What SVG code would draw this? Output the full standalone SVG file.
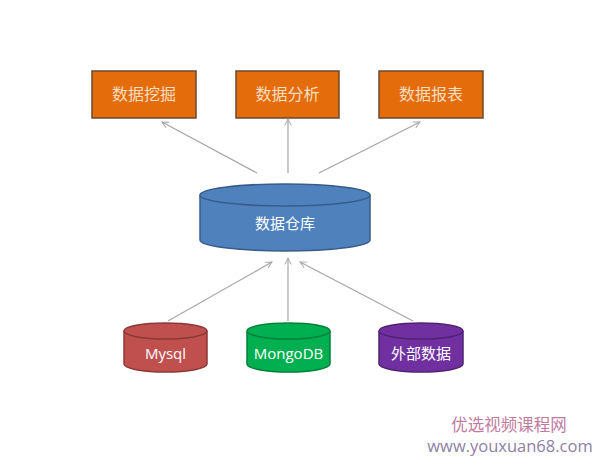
<svg xmlns="http://www.w3.org/2000/svg" width="595" height="464" viewBox="0 0 595 464">
<style>
.cn{font-family:"Noto Sans CJK SC","Liberation Sans",sans-serif;}
.box{fill:#E46C0A;stroke:#6B4A30;stroke-width:1.5;}
.boxt{fill:#F6DFC0;font-size:16px;text-anchor:middle;}
.ct{fill:#FFFFFF;font-size:15px;text-anchor:middle;}
.conn{stroke:#A6A6A6;stroke-width:1.2;fill:none;marker-end:url(#arr);}
</style>
<defs>
<marker id="arr" viewBox="0 0 10 10" refX="9" refY="5" markerWidth="8" markerHeight="8" orient="auto" markerUnits="userSpaceOnUse">
<path d="M1,1 L9,5 L1,9" fill="none" stroke="#A6A6A6" stroke-width="1.2"/>
</marker>
</defs>
<rect width="595" height="464" fill="#FFFFFF"/>
<g id="connectors">
<line class="conn" x1="257" y1="173" x2="162" y2="122"/>
<line class="conn" x1="288" y1="173" x2="288" y2="119"/>
<line class="conn" x1="319" y1="173" x2="420" y2="122"/>
<line class="conn" x1="168" y1="321" x2="272" y2="262"/>
<line class="conn" x1="288" y1="321" x2="288" y2="258"/>
<line class="conn" x1="413" y1="321" x2="300" y2="262"/>
</g>
<g id="mining">
<rect class="box" x="92" y="71" width="104" height="47"/>
<text class="cn boxt" x="144" y="100">数据挖掘</text>
</g>
<g id="analysis">
<rect class="box" x="236" y="71" width="103" height="47"/>
<text class="cn boxt" x="287.5" y="100">数据分析</text>
</g>
<g id="report">
<rect class="box" x="379" y="71" width="104" height="47"/>
<text class="cn boxt" x="431" y="100">数据报表</text>
</g>
<g id="warehouse">
<path d="M200,195 L200,240 A85,11 0 0 0 370,240 L370,195" fill="#4F81BD" stroke="#385D8A" stroke-width="1.5"/>
<ellipse cx="285" cy="195" rx="85" ry="11" fill="#4F81BD" stroke="#385D8A" stroke-width="1.5"/>
<text class="cn ct" x="285" y="229" font-size="16">数据仓库</text>
</g>
<g id="mysql">
<path d="M124,331 L124,364 A41.5,8 0 0 0 207,364 L207,331" fill="#C0504D" stroke="#8C3836" stroke-width="1.5"/>
<ellipse cx="165.5" cy="331" rx="41.5" ry="8" fill="#C0504D" stroke="#8C3836" stroke-width="1.5"/>
<text class="ct" x="165.5" y="359" font-family="'Open Sans','Liberation Sans',sans-serif">Mysql</text>
</g>
<g id="mongodb">
<path d="M247,331 L247,364 A41.5,8 0 0 0 330,364 L330,331" fill="#00B050" stroke="#00803A" stroke-width="1.5"/>
<ellipse cx="288.5" cy="331" rx="41.5" ry="8" fill="#00B050" stroke="#00803A" stroke-width="1.5"/>
<text class="ct" x="288.5" y="359" font-family="'Open Sans','Liberation Sans',sans-serif">MongoDB</text>
</g>
<g id="external">
<path d="M379,331 L379,364 A42,8 0 0 0 463,364 L463,331" fill="#7030A0" stroke="#502274" stroke-width="1.5"/>
<ellipse cx="421" cy="331" rx="42" ry="8" fill="#7030A0" stroke="#502274" stroke-width="1.5"/>
<text class="cn ct" x="421" y="359" font-size="16">外部数据</text>
</g>
<g id="watermark">
<text class="cn" x="509" y="431" font-size="16.5" fill="#C27BA0" text-anchor="middle">优选视频课程网</text>
<text x="510" y="452" font-size="16.5" fill="#8E7FA6" text-anchor="middle" font-family="'Open Sans','Liberation Sans',sans-serif">www.youxuan68.com</text>
</g>
</svg>
